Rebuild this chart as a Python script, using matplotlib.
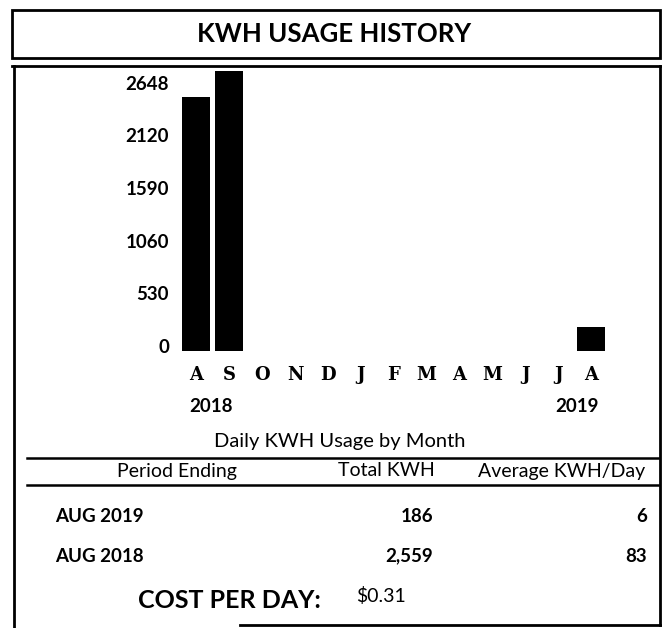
import matplotlib
matplotlib.use('Agg')
import matplotlib.pyplot as plt
import matplotlib.transforms as mtransforms
from matplotlib.patches import Rectangle

# chart data
months = ['A', 'S', 'O', 'N', 'D', 'J', 'F', 'M', 'A', 'M', 'J', 'J', 'A']
kwh = [2559, 2820, 0, 0, 0, 0, 0, 0, 0, 0, 0, 0, 240]
yticks = [0, 530, 1060, 1590, 2120, 2648]
years = ['2018', '2019']

# table below the chart
headers = ['Period Ending', 'Total KWH', 'Average KWH/Day']
periods = ['AUG 2019', 'AUG 2018']
total_kwh = ['186', '2,559']
avg_kwh = ['6', '83']
cost_per_day = '$0.31'

W, H = 665, 628
fig = plt.figure(figsize=(W / 100, H / 100), dpi=100)

# page layer in pixel coordinates
page = fig.add_axes([0, 0, 1, 1])
page.set_xlim(0, W)
page.set_ylim(H, 0)
page.axis('off')

sans = 'Lato'
serif = 'DejaVu Serif'

# title box
page.add_patch(Rectangle((12, 9.5), 648, 48, fill=False, lw=2.0, ec='black'))
page.text(334, 34, 'KWH USAGE HISTORY', fontsize=18.5, fontweight='bold',
          family=sans, ha='center', va='center')

# main box
page.plot([12, 660], [65.5, 65.5], color='black', lw=2.0)
page.plot([14, 14], [65.5, 628], color='black', lw=2.0)
page.plot([660, 660], [65.5, 625], color='black', lw=2.0)
page.plot([240, 660], [625, 625], color='black', lw=2.0)

# bar chart
ax = fig.add_axes([180 / W, (H - 351) / H, 427.5 / W, 283 / H])
ax.bar(range(len(months)), kwh, width=0.85, color='black')
ax.set_xlim(-0.5, len(months) - 0.5)
ax.set_ylim(0, 2850)
ax.patch.set_alpha(0)
for s in ax.spines.values():
    s.set_visible(False)
ax.set_yticks(yticks)
ax.set_yticklabels([str(v) for v in yticks], fontsize=13.5, fontweight='bold', family=sans)
ax.set_xticks(range(len(months)))
ax.set_xticklabels(months, fontsize=13, fontweight='bold', family=serif)
ax.tick_params(axis='y', length=0, pad=8)
ax.tick_params(axis='x', length=0, pad=10.5)
shift = mtransforms.ScaledTranslation(0, 0.05, fig.dpi_scale_trans)
for lab in ax.get_yticklabels():
    lab.set_transform(lab.get_transform() + shift)

page.text(211, 407, years[0], fontsize=13.5, fontweight='bold', family=sans,
          ha='center', va='center')
page.text(577, 407, years[1], fontsize=13.5, fontweight='bold', family=sans,
          ha='center', va='center')

# table
page.text(340, 442, 'Daily KWH Usage by Month', fontsize=14.5, family=sans,
          ha='center', va='center')
page.plot([27, 658], [458, 458], color='black', lw=1.8)
page.text(177, 471, headers[0], fontsize=14, family=sans, ha='center', va='center')
page.text(386, 471, headers[1], fontsize=14, family=sans, ha='center', va='center')
page.text(562, 471, headers[2], fontsize=14, family=sans, ha='center', va='center')
page.plot([27, 658], [485, 485], color='black', lw=1.8)

row_y = [517, 556]
for i in range(len(periods)):
    page.text(55, row_y[i], periods[i], fontsize=13.5, fontweight='bold', family=sans,
              ha='left', va='center')
    page.text(433, row_y[i], total_kwh[i], fontsize=13.5, fontweight='bold', family=sans,
              ha='right', va='center')
    page.text(647, row_y[i], avg_kwh[i], fontsize=13.5, fontweight='bold', family=sans,
              ha='right', va='center')

page.text(138, 601, 'COST PER DAY:', fontsize=18, fontweight='bold', family=sans,
          ha='left', va='center')
page.text(356, 596, cost_per_day, fontsize=14, family=sans, ha='left', va='center')

fig.savefig('out.png', dpi=100)
